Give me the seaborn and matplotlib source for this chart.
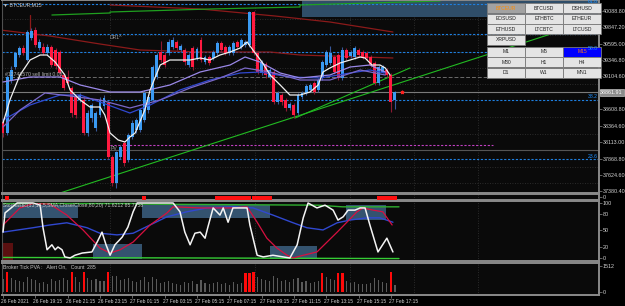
import matplotlib
matplotlib.use("Agg")
import matplotlib.pyplot as plt
import seaborn as sns
from matplotlib.patches import Rectangle
from matplotlib.transforms import ScaledTranslation
from matplotlib import font_manager

sns.set_style("dark")
plt.rcParams['font.family'] = ['Liberation Sans', 'DejaVu Sans']

# ---------------- data ----------------
opens = [38420, 38255, 39050, 39245, 39425, 39530, 39350, 39680, 39800, 39530,
         39545, 39455, 39545, 39500, 39470, 39125, 39095, 38930, 38795, 38750,
         38750, 38255, 38480, 38330, 38525, 38660, 38705, 37895, 37505, 37895,
         38105, 37850, 38195, 38300, 38300, 38450, 38600, 38750, 39095, 39470,
         39425, 39455, 39545, 39620, 39500, 39500, 39275, 39530, 39380, 39650,
         39320, 39395, 39380, 39455, 39605, 39545, 39455, 39455, 39620, 39545,
         39575, 39575, 40070, 39455, 39155, 39290, 39095, 39170, 38720, 38825,
         38750, 38630, 38675, 38555, 38795, 38855, 38900, 39005, 38900, 39080,
         39275, 39305, 39395, 39425, 39080, 39500, 39410, 39395, 39500, 39470,
         39455, 39395, 39305, 39005, 39170, 39200, 39125, 38750]
closes = [38255, 39095, 39200, 39455, 39530, 39455, 39770, 39785, 39575, 39620,
          39455, 39545, 39275, 39260, 39155, 38930, 39005, 38555, 38525, 38825,
          38255, 38555, 38675, 38555, 38750, 38780, 37895, 37505, 37970, 38045,
          37805, 38225, 38405, 38450, 38600, 38855, 38795, 39245, 39425, 39350,
          39275, 39620, 39650, 39530, 39560, 39320, 39425, 39245, 39515, 39350,
          39395, 39305, 39470, 39605, 39500, 39455, 39545, 39605, 39545, 39650,
          39620, 40070, 39455, 39170, 39320, 39125, 39200, 38720, 38855, 38720,
          38630, 38690, 38525, 38825, 38855, 38960, 38975, 38870, 39050, 39320,
          39470, 39455, 39170, 39080, 39500, 39380, 39470, 39530, 39425, 39395,
          39380, 39275, 39005, 39245, 39245, 39125, 38720, 38870]
highs = [38480, 39120, 39260, 39470, 39560, 39580, 39800, 39830, 39840, 39660,
         39600, 39590, 39570, 39530, 39500, 39160, 39200, 38960, 38830, 38860,
         38790, 38600, 38700, 38580, 38800, 38830, 38740, 37920, 37990, 38080,
         38130, 38250, 38450, 38480, 38630, 38900, 38830, 39280, 39450, 39630,
         39470, 39660, 39700, 39650, 39590, 39530, 39450, 39560, 39540, 39700,
         39420, 39430, 39500, 39640, 39640, 39580, 39570, 39640, 39650, 39680,
         39650, 40090, 40080, 39480, 39350, 39320, 39230, 39200, 38890, 38860,
         38780, 38720, 38700, 38850, 38880, 38990, 39000, 39030, 39080, 39350,
         39500, 39560, 39430, 39450, 39540, 39530, 39500, 39560, 39530, 39500,
         39480, 39420, 39330, 39270, 39270, 39230, 39150, 38880]
lows = [38200, 38230, 39000, 39220, 39400, 39420, 39330, 39650, 39540, 39500,
        39420, 39430, 39240, 39210, 39100, 38900, 38980, 38500, 38480, 38720,
        38230, 38210, 38420, 38280, 38500, 38620, 37860, 37460, 37430, 37860,
        37760, 37820, 38170, 38260, 38270, 38420, 38560, 38720, 39060, 39320,
        39250, 39420, 39520, 39500, 39470, 39280, 39240, 39200, 39350, 39320,
        39290, 39270, 39350, 39430, 39470, 39420, 39430, 39430, 39520, 39520,
        39550, 39550, 39420, 39140, 39130, 39080, 39060, 38690, 38690, 38680,
        38590, 38600, 38480, 38520, 38760, 38830, 38870, 38840, 38870, 39050,
        39250, 39280, 39140, 39050, 39050, 39350, 39380, 39370, 39400, 39370,
        39350, 39250, 38980, 38980, 39150, 39100, 38570, 38620]

# moving averages on the price chart (bar position, price)
ma_white_x = [0, 1.7, 4.2, 6.7, 9.2, 10.9, 12.9, 15.3, 16.6, 19.1, 21.5, 24, 25.2, 26.5, 28.5,
              30.2, 31.4, 32.7, 35.1, 36.4, 38.9, 41.3, 43.8, 46.3, 48.8, 51.2, 53.7, 56.2,
              58.7, 60.4, 62.4, 64.1, 66.1, 68.6, 71, 73.5, 76, 78, 79.2, 80.9, 83.4, 85.9,
              88.4, 89.6, 91.3, 93.3, 94.6, 95.8]
ma_white = [38405, 38750, 39125, 39350, 39425, 39425, 39320, 39125, 38900, 38750, 38645, 38645,
            38525, 38255, 38150, 38120, 38195, 38255, 38600, 38900, 39275, 39350, 39350, 39350,
            39380, 39350, 39425, 39470, 39530, 39620, 39455, 39320, 39125, 38975, 38825, 38825,
            38870, 38975, 39170, 39230, 39305, 39350, 39395, 39380, 39275, 39275, 39230, 39125]
ma_a_x = [0, 6.7, 14.1, 19.1, 26.5, 33.9, 41.3, 48.8, 56.2, 59.9, 63.6, 68.6, 73.5, 80.9, 85.9, 90.8, 94.6]
ma_a = [39020, 39095, 39095, 38975, 38870, 38870, 38975, 39170, 39275, 39395, 39320, 39155,
        39080, 39125, 39245, 39275, 39170]
ma_b_x = [0, 6.7, 14.1, 19.1, 24, 31.4, 36.4, 43.8, 51.2, 58.7, 63.6, 71, 78.5, 85.9, 90.8, 94.6]
ma_b = [38450, 38675, 38825, 38825, 38720, 38555, 38675, 38900, 39050, 39155, 39170, 39095,
        39080, 39155, 39200, 39155]
ma_c_x = [0, 4.2, 10.4, 16.6, 24, 31.4, 38.9, 46.3, 53.7, 59.9, 66.1, 73.5, 80.9, 88.4, 94.6]
ma_c = [38345, 38600, 38855, 38810, 38750, 38630, 38750, 38930, 39080, 39230, 39170, 39050,
        39050, 39200, 39125]

# drawn objects (bar position, price)
dr1_x = [-0.7, 11.6, 24, 33.9, 48.8, 66.1, 73.5, 96.5]
dr1 = [39800, 39710, 39590, 39500, 39470, 39470, 39425, 39380]
dr2_x = [26.5, 48.8, 67.3, 80.9, 96.5]
dr2 = [40175, 40115, 40010, 39920, 39770]
top_green_x = [12.1, 26.5, 26.5, 51.2, 73.5, 73.5, 108.2]
top_green = [40025, 40055, 40070, 40115, 40145, 40175, 40235]
trend1_x = [14.1, 147.8]
trend1 = [37355, 39980]
trend2_x = [72.3, 100.7]
trend2 = [38480, 39230]
fib_levels = [40190, 39470, 38750, 37865]
fib_labels = ["61.8", "50.0", "38.2", "23.6"]
dr1_level = 39740
sell_limit = 39095
pv_level = 38075
bid_price = 38870
support_level = 38000
vgrid_bars = [26.5, 62.4, 85.9, 101.7, 117.6]

price_ticks = [40088.80, 39847.20, 39595.00, 39346.80, 39104.60, 38608.80,
               38364.60, 38113.00, 37868.80, 37624.60, 37380.40]

# stochastic (bar position, value)
stoch_k_x = [0, 0.5, 3.5, 7.4, 9.2, 9.9, 10.9, 12.1, 12.9, 13.6, 14.6, 15.3, 16.6, 17.8, 19.6, 22,
             23.3, 24.5, 25.5, 26.5, 27.7, 29.5, 30.9, 32.2, 33.2, 35.6, 38.1, 40.8, 42.1, 43.8,
             45, 46.3, 47.5, 48.8, 50, 50.7, 52, 53.7, 54.5, 55.7, 56.9, 58.7, 60.4, 61.1, 62.9,
             64.4, 66.8, 69.3, 71, 72.8, 74.3, 75.5, 77.2, 77.7, 79.7, 81.7, 82.9, 84.2, 85.4,
             87.1, 88.4, 89.6, 90.8, 92.8, 95, 96.5]
stoch_k = [47, 82, 100, 100, 96, 55, 15, 24, 15, 20, 15, 2, 0, 5, 9, 11, 29, 47, 24, 5, 24, 38,
           56, 84, 100, 100, 100, 100, 100, 84, 47, 24, 45, 47, 36, 56, 91, 78, 91, 65, 91, 91,
           91, 60, 5, 2, 5, 2, 0, 24, 73, 100, 93, 91, 96, 87, 69, 75, 87, 87, 91, 91, 60, 11,
           36, 11]
stoch_d_x = [0, 4.2, 7.4, 11.6, 15.8, 19.8, 24, 26.5, 29, 32.2, 36.4, 40.6, 42.1, 48.8, 56.9,
             60.4, 62.9, 65.3, 67.8, 70.3, 71.8, 74.3, 77.7, 80.2, 82.7, 85.1, 87.6, 89.1, 91.6,
             94, 96.3]
stoch_d = [60, 91, 99, 98, 78, 51, 18, 9, 15, 29, 60, 82, 93, 91, 91, 93, 65, 36, 18, 5, 0, 5,
           11, 29, 47, 65, 84, 91, 87, 84, 60]
stoch_s_x = [0, 7.4, 11.6, 15.8, 20.8, 24, 28.2, 32.2, 36.4, 40.6, 45.5, 50.5, 56.9, 61.9, 66.8,
             71.8, 75.2, 79.2, 82.7, 85.9, 90.1, 93.3, 96.5]
stoch_s = [47, 55, 60, 64, 55, 45, 42, 45, 60, 75, 84, 91, 93, 91, 78, 64, 55, 51, 64, 69, 73,
           73, 65]
# zones: (bar start, bar end, value low, value high)
stoch_zones = [(-0.7, 18.6, 72.7, 96.4), (34.4, 66.1, 72.7, 96.4), (22.3, 34.4, -1.8, 25.5),
               (66.1, 77.7, -1.8, 21.8), (84.9, 94.8, 69, 96.4)]
signal_bars = [1, 35, 53, 54, 55, 56, 57, 58, 59, 60, 61, 62, 63, 64, 65, 66, 93, 94, 95, 96, 97]

# tick volume
volume = [780, 1190, 820, 700, 650, 560, 900, 740, 690, 520,
          610, 480, 760, 640, 720, 820, 680, 1160, 880, 600,
          1160, 840, 700, 760, 620, 660, 1160, 950, 920, 700,
          780, 820, 640, 560, 720, 860, 600, 900, 780, 540,
          600, 640, 520, 480, 430, 560, 500, 620, 460, 700,
          520, 480, 540, 600, 450, 500, 420, 560, 480, 520,
          1100, 1130, 1190, 900, 760, 700, 640, 920, 820, 620,
          700, 560, 740, 800, 600, 620, 540, 580, 620, 1110,
          880, 760, 720, 1130, 1130, 640, 520, 600, 480, 440,
          460, 540, 800, 700, 560, 520, 1150, 400]
alert_bars = [1, 17, 20, 26, 60, 61, 62, 79, 83, 84, 96]

time_tick_bars = [0, 8, 16, 24, 32, 40, 48, 56, 64, 72, 80, 88, 96]
time_labels = ["26 Feb 2021", "26 Feb 19:15", "26 Feb 21:15", "26 Feb 23:15", "27 Feb 01:15",
               "27 Feb 03:15", "27 Feb 05:15", "27 Feb 07:15", "27 Feb 09:15", "27 Feb 11:15",
               "27 Feb 13:15", "27 Feb 15:15", "27 Feb 17:15"]

button_rows = [["BTCEUR", "BTCUSD", "DSHUSD"], ["EOSUSD", "ETHBTC", "ETHEUR"],
               ["ETHUSD", "LTCBTC", "LTCUSD"], ["XRPUSD"], ["M1", "M5", "M15"],
               ["M30", "H1", "H4"], ["D1", "W1", "MN1"]]

# ---------------- fonts ----------------
FAM = ["Liberation Sans", "DejaVu Sans"]
AXF = font_manager.FontProperties(family=FAM, size=3.9)
TIMEF = font_manager.FontProperties(family=FAM, size=3.5)
TXTF = font_manager.FontProperties(family=FAM, size=3.7)
BTNF = font_manager.FontProperties(family=FAM, size=3.6)

# ---------------- figure ----------------
W, H = 625, 306
fig = plt.figure(figsize=(W / 100, H / 100), dpi=100, facecolor="#000000")
LPX, RPX = 2, 599
XLIM = (-0.25, 147.5)
BG = "#0a0a0a"
GRIDC = "#363636"
LBL = "#d2d2d2"


def panel(top, bottom):
    ax = fig.add_axes([LPX / W, 1 - bottom / H, (RPX - LPX) / W, (bottom - top) / H])
    ax.set_facecolor(BG)
    ax.set_xlim(*XLIM)
    ax.grid(False)
    for s in ax.spines.values():
        s.set_color("#8a8a8a")
        s.set_linewidth(1.4)
    ax.spines["left"].set_color("#505050")
    ax.spines["left"].set_linewidth(0.8)
    ax.yaxis.tick_right()
    ax.tick_params(axis="y", colors="#8a8a8a", labelcolor=LBL,
                   length=2, width=0.5, pad=0.8)
    ax.tick_params(axis="x", bottom=False, labelbottom=False)
    for b in vgrid_bars:
        ax.axvline(b, color=GRIDC, ls=(0, (1, 2)), lw=0.6, zorder=0)
    return ax


def style_ylabels(ax):
    for t in ax.get_yticklabels():
        t.set_fontproperties(AXF)


ax = panel(0, 193)
ax.set_ylim(37355, 40250)
ax.set_yticks(price_ticks)
ax.set_yticklabels([f"{v:.2f}" for v in price_ticks])
style_ylabels(ax)
for v in price_ticks:
    ax.axhline(v - 120, color=GRIDC, ls=(0, (1, 2)), lw=0.6, zorder=0)

# zone at top
ax.add_patch(Rectangle((74, 39995), 80, 300, color="#2f4d68", lw=0, zorder=0.5))

# horizontal levels
for lv in fib_levels + [dr1_level]:
    ax.axhline(lv, color="#1e7fe0", ls=(0, (2, 1.5)), lw=0.8, zorder=1)
ax.axhline(bid_price, color="#7a7a7a", lw=0.8, zorder=1)
ax.axhline(support_level, color="#555555", lw=0.8, zorder=1)
ax.plot([-1, 119.8], [sell_limit, sell_limit], color="#6a6a6a", ls=(0, (4, 2)), lw=0.7, zorder=1)
ax.plot([26.5, 121.3], [pv_level, pv_level], color="#c040c0", ls=(0, (2, 1.5)), lw=0.8, zorder=1)

# drawn lines
sns.lineplot(x=dr1_x, y=dr1, ax=ax, color="#8b1a1a", lw=0.9, sort=False, estimator=None)
sns.lineplot(x=dr2_x, y=dr2, ax=ax, color="#8b1a1a", lw=0.9, sort=False, estimator=None)
sns.lineplot(x=top_green_x, y=top_green, ax=ax, color="#1fa01f", lw=0.9, sort=False, estimator=None)
ax.plot([6.7, 6.7], [40025, 39800], color="#8b1a1a", lw=0.9)
sns.lineplot(x=trend1_x, y=trend1, ax=ax, color="#22bb22", lw=0.8, sort=False, estimator=None)
sns.lineplot(x=trend2_x, y=trend2, ax=ax, color="#22bb22", lw=0.8, sort=False, estimator=None)

# candles
xs = list(range(len(opens)))
bull = [c >= o for o, c in zip(opens, closes)]
ax.vlines(xs, lows, highs, colors=["#38589a" if b else "#8a1a32" for b in bull], lw=0.8, zorder=2)
bottoms = [min(o, c) for o, c in zip(opens, closes)]
heights = [max(abs(c - o), 15) for o, c in zip(opens, closes)]
ax.bar(xs, heights, bottom=bottoms, width=0.72,
       color=["#3a9af2" if b else "#ff1a40" for b in bull], lw=0, zorder=3)

# moving averages
sns.lineplot(x=ma_b_x, y=ma_b, ax=ax, color="#3048d0", lw=0.9, sort=False, estimator=None, zorder=4)
sns.lineplot(x=ma_c_x, y=ma_c, ax=ax, color="#7a68c8", lw=0.9, sort=False, estimator=None, zorder=4)
sns.lineplot(x=ma_a_x, y=ma_a, ax=ax, color="#9a88e8", lw=0.9, sort=False, estimator=None, zorder=4)
sns.lineplot(x=ma_white_x, y=ma_white, ax=ax, color="#f0f0f0", lw=0.9, sort=False, estimator=None, zorder=5)
ax.scatter([98.7], [bid_price], color="#ff2020", s=4, marker="*", zorder=6)
ax.set_xlabel("")
ax.set_ylabel("")

# thin signal panel
axs = panel(194, 200)
axs.set_ylim(0, 1)
axs.set_yticks([0.5])
axs.set_yticklabels(["0"])
style_ylabels(axs)
sns.scatterplot(x=signal_bars, y=[0.35] * len(signal_bars), ax=axs, color="#ff1010", s=5,
                marker="s", linewidth=0, zorder=3)
axs.set_xlabel("")
axs.set_ylabel("")

# stochastic panel
ast = panel(201, 261)
ast.set_ylim(-5.45, 103.6)
ast.set_yticks([100, 80, 50, 20, 0])
ast.set_yticklabels(["100", "80", "50", "20", "0"])
style_ylabels(ast)
for z in stoch_zones:
    ast.add_patch(Rectangle((z[0], z[2]), z[1] - z[0], z[3] - z[2], color="#34536f", lw=0, zorder=1))
ast.add_patch(Rectangle((-0.7, -3.6), 3.2, 30.6, color="#5a1010", lw=0, zorder=1))
ast.plot([0, 33, 33, 78, 84, 98], [99, 99, 98, 96, 93, 93], color="#2faf2f", lw=1.0, zorder=2)
ast.plot([0, 98], [1, -1], color="#35cc35", lw=1.0, zorder=2)
sns.lineplot(x=stoch_s_x, y=stoch_s, ax=ast, color="#3048d0", lw=1.0, sort=False, estimator=None, zorder=3)
sns.lineplot(x=stoch_d_x, y=stoch_d, ax=ast, color="#d81040", lw=0.9, sort=False, estimator=None, zorder=4)
sns.lineplot(x=stoch_k_x, y=stoch_k, ax=ast, color="#f4f4f4", lw=1.1, sort=False, estimator=None, zorder=5)
ast.set_xlim(*XLIM)
ast.set_xlabel("")
ast.set_ylabel("")

# tick volume panel
av = panel(263, 295)
av.set_ylim(-174.5, 1686.5)
av.set_yticks([1512, 0])
av.set_yticklabels(["1512", "0"])
style_ylabels(av)
gray_x = [i for i in xs if i not in alert_bars]
av.bar(gray_x, [volume[i] for i in gray_x], width=0.28, color="#5a5a5a", lw=0, zorder=2)
av.bar(alert_bars, [volume[i] for i in alert_bars], width=0.55, color="#ff0a0a", lw=0, zorder=3)
av.set_xticks(time_tick_bars)
av.set_xticklabels(time_labels, ha="left")
av.tick_params(axis="x", bottom=True, labelbottom=True, colors="#8a8a8a", labelcolor=LBL,
               length=2, width=0.5, pad=0.8)
for lbl in av.get_xticklabels():
    lbl.set_fontproperties(TIMEF)
    lbl.set_transform(lbl.get_transform() + ScaledTranslation(-2 / 100, 0, fig.dpi_scale_trans))
av.set_xlim(*XLIM)

# ---------------- overlay (texts, buttons) ----------------
ov = fig.add_axes([0, 0, 1, 1], zorder=20)
ov.set_xlim(0, W)
ov.set_ylim(H, 0)
ov.axis("off")
ov.patch.set_alpha(0)

ov.text(3, 5, "▼ BTCEUR,M15", color="#c8c8c8", fontproperties=TXTF, va="center")
ov.text(110, 37.5, "DR1^", color="#a0a0a0", fontproperties=TXTF, va="center")
ov.text(5, 74.5, "#12748570 sell limit 0.05", color="#b4b4b4", fontproperties=TXTF, va="center")
ov.text(111, 148, "PV", color="#a0a0a0", fontproperties=TXTF, va="center")
for lab, yy in zip(fib_labels, [1.8, 48.5, 97, 156]):
    ov.text(598, yy, lab, color="#1e90ff", fontproperties=TXTF, va="center", ha="right", zorder=30)
ov.text(3, 205.5, "Stochastic(13,13,5,SMA,Close/Close,80,20) 71.6212 85.7758",
        color="#c8c8c8", fontproperties=TXTF, va="center")
ov.text(3, 266.5, "Broker Tick PVA :   Alert On,   Count  285", color="#c8c8c8",
        fontproperties=TXTF, va="center")

# price box
ov.add_patch(Rectangle((600, 88.5), 24, 7.5, facecolor="#8c8c8c", edgecolor="#c0c0c0", lw=0.5))
ov.text(611.5, 92.3, "38861.91", color="#ffffff", fontproperties=AXF, ha="center", va="center")

# buttons
col_x = [487.3, 525.3, 563.3]
row_y = [3, 13.5, 24, 34.5, 46.5, 57, 67.5]
for r, row in enumerate(button_rows):
    for c, name in enumerate(row):
        face, tc = "#e4e4e4", "#202020"
        if name == "BTCEUR":
            face, tc = "#a2a2a2", "#ff8c00"
        if name == "M15":
            face, tc = "#0000ff", "#ff7a10"
        ov.add_patch(Rectangle((col_x[c], row_y[r]), 37.4, 10.2, facecolor=face,
                               edgecolor="#7a7a7a", lw=0.6))
        ov.text(col_x[c] + 18.7, row_y[r] + 5.2, name, color=tc, fontproperties=BTNF,
                ha="center", va="center")

fig.savefig("out.png", dpi=100, facecolor="#000000")
